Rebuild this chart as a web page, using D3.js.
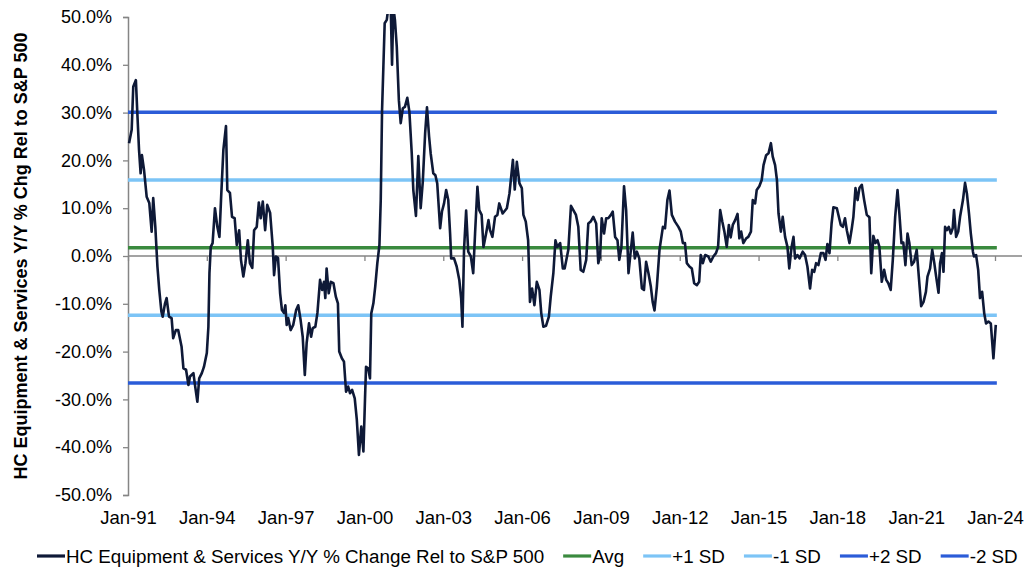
<!DOCTYPE html>
<html>
<head>
<meta charset="utf-8">
<script src="https://cdn.jsdelivr.net/npm/d3@7"></script>
<style>
  body { margin: 0; background: #fff; }
  svg text { font-family: "Liberation Sans", Arial, sans-serif; fill: #000; }
</style>
</head>
<body>
<svg id="chart" width="1025" height="567"></svg>
<script>
// ---------- DATA ----------
const seriesName = "HC Equipment & Services Y/Y % Change Rel to S&P 500";
const yTitle = "HC Equipment & Services Y/Y % Chg Rel to S&P 500";
// [decimal year, % value]
const series = [[1991.04,23.6],[1991.14,26.4],[1991.20,35.4],[1991.30,36.8],[1991.35,30.5],[1991.42,22.2],[1991.48,17.3],[1991.53,21.1],[1991.61,18.0],[1991.71,12.4],[1991.81,11.1],[1991.90,5.1],[1991.96,12.1],[1992.04,6.1],[1992.12,-2.2],[1992.19,-7.1],[1992.27,-11.6],[1992.32,-12.7],[1992.41,-9.9],[1992.47,-8.8],[1992.56,-12.7],[1992.66,-13.0],[1992.72,-17.2],[1992.82,-15.5],[1992.91,-15.5],[1993.04,-19.0],[1993.11,-23.5],[1993.21,-23.8],[1993.30,-27.0],[1993.36,-25.2],[1993.49,-24.5],[1993.55,-27.0],[1993.64,-30.5],[1993.71,-25.6],[1993.81,-24.5],[1993.89,-23.2],[1994.00,-20.3],[1994.06,-14.8],[1994.10,-3.6],[1994.15,1.9],[1994.22,2.7],[1994.31,10.0],[1994.40,6.1],[1994.48,4.0],[1994.54,11.7],[1994.63,22.2],[1994.73,27.2],[1994.78,13.8],[1994.88,13.2],[1994.96,8.2],[1995.06,7.9],[1995.14,2.3],[1995.23,5.4],[1995.30,-0.8],[1995.39,-4.3],[1995.47,-1.5],[1995.56,3.3],[1995.64,-1.5],[1995.73,-2.5],[1995.80,5.4],[1995.90,6.1],[1995.98,11.2],[1996.05,7.9],[1996.13,11.4],[1996.22,5.4],[1996.30,10.7],[1996.41,9.0],[1996.51,1.9],[1996.56,-4.0],[1996.63,-0.1],[1996.71,-0.4],[1996.79,-7.8],[1996.86,-11.3],[1996.94,-11.9],[1996.99,-10.3],[1997.04,-14.4],[1997.10,-13.0],[1997.19,-15.5],[1997.29,-14.4],[1997.40,-11.3],[1997.48,-10.3],[1997.57,-13.4],[1997.65,-16.9],[1997.73,-24.9],[1997.80,-18.2],[1997.89,-14.1],[1997.97,-16.9],[1998.03,-15.1],[1998.13,-14.8],[1998.21,-11.9],[1998.31,-5.0],[1998.39,-7.1],[1998.46,-5.4],[1998.51,-8.8],[1998.56,-2.6],[1998.64,-7.8],[1998.72,-5.4],[1998.82,-5.7],[1998.91,-8.5],[1998.99,-9.9],[1999.04,-20.0],[1999.14,-21.4],[1999.22,-22.1],[1999.30,-28.4],[1999.38,-27.3],[1999.45,-28.7],[1999.53,-28.0],[1999.63,-29.8],[1999.71,-34.3],[1999.79,-41.6],[1999.88,-35.7],[1999.96,-40.9],[2000.02,-30.1],[2000.06,-23.2],[2000.14,-23.5],[2000.21,-25.6],[2000.26,-12.0],[2000.34,-9.9],[2000.41,-6.4],[2000.49,-1.5],[2000.57,2.3],[2000.62,11.7],[2000.67,30.5],[2000.72,39.6],[2000.77,48.7],[2000.85,49.4],[2000.91,52],[2001.00,52],[2001.05,40.0],[2001.10,52],[2001.16,49.4],[2001.23,43.8],[2001.31,32.6],[2001.38,27.8],[2001.46,30.9],[2001.54,31.2],[2001.63,33.1],[2001.71,30.2],[2001.80,21.5],[2001.86,13.8],[2001.96,8.4],[2002.05,20.9],[2002.14,10.0],[2002.22,15.5],[2002.31,25.7],[2002.38,31.1],[2002.46,25.0],[2002.52,21.5],[2002.62,17.3],[2002.70,16.9],[2002.77,15.2],[2002.88,5.8],[2002.95,9.3],[2003.03,11.0],[2003.11,13.8],[2003.19,11.7],[2003.26,4.7],[2003.30,-0.5],[2003.41,-0.5],[2003.51,-2.2],[2003.61,-5.0],[2003.68,-8.8],[2003.73,-14.8],[2003.79,1.3],[2003.87,9.5],[2003.95,0.9],[2004.05,-0.1],[2004.14,-3.6],[2004.21,4.7],[2004.30,14.5],[2004.37,9.6],[2004.46,8.6],[2004.53,1.9],[2004.63,4.7],[2004.72,7.5],[2004.78,5.4],[2004.87,4.0],[2004.97,8.2],[2005.06,8.6],[2005.13,11.0],[2005.26,8.9],[2005.42,10.0],[2005.52,13.1],[2005.65,20.1],[2005.72,13.9],[2005.80,19.7],[2005.90,15.2],[2005.99,14.2],[2006.05,8.6],[2006.14,7.2],[2006.23,3.3],[2006.30,-9.6],[2006.38,-6.8],[2006.47,-10.3],[2006.56,-5.4],[2006.66,-7.1],[2006.73,-12.0],[2006.81,-14.8],[2006.91,-14.6],[2007.02,-12.7],[2007.09,-8.5],[2007.19,-3.6],[2007.27,3.3],[2007.34,1.9],[2007.45,2.7],[2007.55,-2.6],[2007.62,-2.6],[2007.76,1.3],[2007.86,10.5],[2007.95,9.6],[2008.05,8.6],[2008.14,6.1],[2008.23,-2.9],[2008.33,-3.3],[2008.44,-0.8],[2008.52,6.8],[2008.61,7.2],[2008.71,8.2],[2008.82,6.8],[2008.90,-1.5],[2008.97,-0.1],[2009.03,7.9],[2009.12,4.7],[2009.20,7.9],[2009.28,7.9],[2009.38,8.6],[2009.45,9.3],[2009.54,4.0],[2009.63,3.3],[2009.70,-0.8],[2009.78,1.9],[2009.88,14.6],[2009.96,9.6],[2010.05,-3.6],[2010.14,1.3],[2010.21,4.9],[2010.29,-0.5],[2010.37,0.9],[2010.46,-0.5],[2010.56,-6.8],[2010.64,-7.1],[2010.72,-1.2],[2010.81,-3.6],[2010.90,-6.4],[2010.97,-9.6],[2011.04,-11.4],[2011.13,-6.4],[2011.23,1.3],[2011.36,6.1],[2011.44,5.8],[2011.53,11.7],[2011.61,13.7],[2011.70,8.6],[2011.82,7.2],[2011.95,6.1],[2012.04,5.1],[2012.12,2.7],[2012.20,2.7],[2012.27,-1.5],[2012.37,-2.2],[2012.46,-2.6],[2012.55,-5.7],[2012.65,-6.1],[2012.74,-5.4],[2012.80,0.2],[2012.88,-1.5],[2012.97,0.2],[2013.09,-0.1],[2013.18,-1.2],[2013.28,-0.1],[2013.38,0.6],[2013.46,1.9],[2013.54,9.6],[2013.62,7.2],[2013.70,5.1],[2013.79,1.9],[2013.87,6.5],[2013.94,3.9],[2014.02,6.5],[2014.11,7.5],[2014.20,8.8],[2014.27,3.7],[2014.34,5.1],[2014.42,2.7],[2014.53,3.7],[2014.61,4.0],[2014.71,5.1],[2014.78,11.7],[2014.87,11.0],[2014.93,13.8],[2015.03,14.6],[2015.12,15.9],[2015.19,19.0],[2015.29,21.1],[2015.38,21.5],[2015.47,23.6],[2015.54,20.8],[2015.63,19.0],[2015.70,15.9],[2015.76,8.9],[2015.85,5.1],[2015.92,8.2],[2016.01,4.0],[2016.10,1.9],[2016.17,-2.6],[2016.25,1.6],[2016.33,4.0],[2016.39,-0.5],[2016.48,0.2],[2016.56,-0.5],[2016.68,0.9],[2016.77,0.2],[2016.86,-2.2],[2016.96,-6.8],[2017.04,-2.9],[2017.12,-3.3],[2017.19,-1.5],[2017.28,-1.9],[2017.37,0.6],[2017.47,0.6],[2017.55,-0.8],[2017.62,2.5],[2017.70,0.6],[2017.78,6.8],[2017.85,10.2],[2017.98,10.0],[2018.13,6.5],[2018.21,6.1],[2018.29,7.9],[2018.36,5.4],[2018.46,2.7],[2018.55,5.8],[2018.61,8.2],[2018.69,14.2],[2018.77,11.7],[2018.84,14.2],[2018.93,14.9],[2019.02,11.7],[2019.12,8.6],[2019.22,8.1],[2019.29,-3.6],[2019.37,4.2],[2019.45,2.7],[2019.53,3.3],[2019.60,1.9],[2019.69,-5.4],[2019.78,-2.9],[2019.86,-5.0],[2019.94,-5.7],[2020.03,-7.1],[2020.11,-0.8],[2020.20,8.2],[2020.29,13.8],[2020.36,8.9],[2020.44,2.7],[2020.51,2.8],[2020.59,-1.9],[2020.67,4.7],[2020.74,2.7],[2020.83,-1.9],[2020.92,-1.2],[2021.02,1.3],[2021.10,-4.3],[2021.19,-10.5],[2021.28,-9.6],[2021.37,-7.5],[2021.43,-4.3],[2021.53,-2.6],[2021.61,1.3],[2021.69,-1.5],[2021.76,-4.3],[2021.85,-7.7],[2021.91,-1.5],[2021.98,0.6],[2022.04,-3.3],[2022.10,6.1],[2022.17,5.4],[2022.24,6.1],[2022.32,4.7],[2022.39,5.8],[2022.44,9.6],[2022.52,4.0],[2022.60,5.1],[2022.67,8.2],[2022.78,11.7],[2022.86,15.3],[2022.93,13.1],[2023.01,8.9],[2023.08,4.7],[2023.16,0.9],[2023.20,-0.1],[2023.28,0.2],[2023.36,-2.9],[2023.43,-8.8],[2023.51,-7.5],[2023.59,-12.0],[2023.66,-14.1],[2023.75,-13.7],[2023.84,-14.1],[2023.94,-21.4],[2024.03,-14.4]];

const yTicks = [-50, -40, -30, -20, -10, 0, 10, 20, 30, 40, 50];
const xTickYears = [1991, 1994, 1997, 2000, 2003, 2006, 2009, 2012, 2015, 2018, 2021, 2024];
const xTickLabels = ["Jan-91","Jan-94","Jan-97","Jan-00","Jan-03","Jan-06","Jan-09","Jan-12","Jan-15","Jan-18","Jan-21","Jan-24"];

const refNames = ["Avg", "+1 SD", "-1 SD", "+2 SD", "-2 SD"];
const refValues = [1.75, 15.9, -12.4, 30.05, -26.55];
const refColors = ["#3a8a3e", "#7cc4f6", "#7cc4f6", "#2b5cd8", "#2b5cd8"];
const lineColor = "#0e1937";

// ---------- CHART ----------
const svg = d3.select("#chart");
const x = d3.scaleLinear().domain([1991, 2024]).range([128, 995]);
const y = d3.scaleLinear().domain([-50, 50]).range([495, 17]);
const axisColor = "#858585";

// clip
svg.append("defs").append("clipPath").attr("id", "plotClip")
  .append("rect").attr("x", 120).attr("y", 14).attr("width", 905).attr("height", 485);

// x axis (zero line) with ticks
const xAxis = d3.axisBottom(x).tickValues(xTickYears).tickSize(5)
  .tickFormat((d, i) => xTickLabels[i]);
const gx = svg.append("g").attr("transform", `translate(0,${y(0)})`).call(xAxis);
gx.select(".domain").remove();
gx.selectAll(".tick line").attr("stroke", axisColor).attr("stroke-width", 1.3);
gx.selectAll(".tick text")
  .attr("y", 518 - y(0)).attr("dy", "0.35em")
  .style("font-size", "18.5px").attr("fill", "#000");
svg.append("line")
  .attr("x1", x(1991)).attr("x2", 1022)
  .attr("y1", y(0)).attr("y2", y(0))
  .attr("stroke", axisColor).attr("stroke-width", 1.5);

// y axis
const yAxis = d3.axisLeft(y).tickValues(yTicks).tickSize(5).tickPadding(11)
  .tickFormat(d => d.toFixed(1) + "%");
const gy = svg.append("g").attr("transform", `translate(${x(1991)},0)`).call(yAxis);
gy.select(".domain").attr("stroke", axisColor).attr("stroke-width", 1.5);
gy.selectAll(".tick line").attr("stroke", axisColor).attr("stroke-width", 1.3);
gy.selectAll(".tick text").style("font-size", "18px").attr("fill", "#000");

// y title
svg.append("text")
  .attr("transform", `translate(27,${(y(50) + y(-50)) / 2}) rotate(-90)`)
  .attr("text-anchor", "middle")
  .style("font-size", "18px").style("font-weight", "bold")
  .text(yTitle);

// reference lines
svg.append("g").selectAll("line").data(refValues).join("line")
  .attr("x1", x(1991)).attr("x2", x(2024.07))
  .attr("y1", d => y(d)).attr("y2", d => y(d))
  .attr("stroke", (d, i) => refColors[i]).attr("stroke-width", 3.5);

// main line
const line = d3.line().x(d => x(d[0])).y(d => y(d[1]));
svg.append("path").datum(series)
  .attr("clip-path", "url(#plotClip)")
  .attr("fill", "none").attr("stroke", lineColor)
  .attr("stroke-width", 2.6).attr("stroke-linejoin", "round")
  .attr("d", line);

// legend
const legendItems = [{ name: seriesName, color: lineColor }]
  .concat(refNames.map((n, i) => ({ name: n, color: refColors[i] })));
const lg = svg.append("g");
let lx = 37;
const ly = 556;
legendItems.forEach(it => {
  lg.append("line").attr("x1", lx).attr("x2", lx + 28).attr("y1", ly).attr("y2", ly)
    .attr("stroke", it.color).attr("stroke-width", 3.2);
  const t = lg.append("text").attr("x", lx + 29).attr("y", ly).attr("dy", "0.35em")
    .style("font-size", "18.8px").text(it.name);
  lx = lx + 29 + t.node().getComputedTextLength() + 19;
});
</script>
</body>
</html>
